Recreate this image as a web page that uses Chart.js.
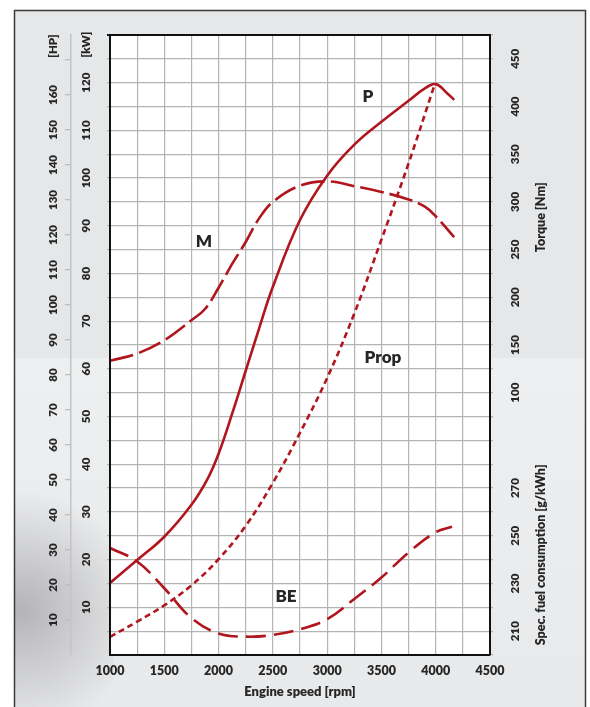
<!DOCTYPE html>
<html>
<head>
<meta charset="utf-8">
<script src="https://cdn.jsdelivr.net/npm/chart.js@4.4.1/dist/chart.umd.min.js"></script>
<style>
  html, body { margin: 0; padding: 0; background: #fff; }
  canvas { display: block; }
</style>
</head>
<body>
<canvas id="engine_chart" width="590" height="707"></canvas>
<script>
// Curves.
// Power P [kW]
const powerRpm = [1000, 1250, 1500, 1750, 1900, 2000, 2125, 2250, 2375, 2500, 2750, 3000, 3250, 3500, 3750, 3900, 4000, 4100, 4170];
const powerKw  = [15.1, 19.9, 24.8, 31.5, 37.0, 42.2, 50.6, 59.6, 68.6, 77.2, 91.2, 100.5, 107.0, 111.8, 116.2, 118.8, 119.7, 117.9, 116.4];

// Propeller curve Prop [kW]
const propRpm = [1000, 1250, 1500, 1750, 2000, 2250, 2500, 2750, 3000, 3250, 3500, 3750, 3990];
const propKw  = [3.8, 7.0, 10.4, 14.6, 20.1, 27.1, 36.1, 46.6, 58.1, 71.6, 87.1, 103.1, 119.6];

// Torque M [Nm]
const torqueRpm = [1000, 1250, 1500, 1750, 1875, 2000, 2125, 2250, 2375, 2500, 2750, 3000, 3250, 3500, 3750, 3900, 4000, 4170];
const torqueNm  = [133.5, 141, 155, 176, 187.7, 210, 235, 258, 283, 300, 317, 321.5, 316.5, 310.5, 302.5, 295, 285, 263];

// Specific fuel consumption BE [g/kWh]
const fuelRpm  = [1000, 1250, 1500, 1750, 2000, 2250, 2500, 2750, 3000, 3250, 3500, 3750, 4000, 4150];
const fuelGkwh = [244.9, 239.2, 228, 215.5, 209, 207.7, 208.4, 210.8, 215, 223.5, 232.5, 243, 251.5, 253.8];

// Tick labels
const rpmLabels    = [1000, 1500, 2000, 2500, 3000, 3500, 4000, 4500];
const kwLabels     = [10, 20, 30, 40, 50, 60, 70, 80, 90, 100, 110, 120];
const hpLabels     = [10, 20, 30, 40, 50, 60, 70, 80, 90, 100, 110, 120, 130, 140, 150, 160];
const torqueLabels = [100, 150, 200, 250, 300, 350, 400, 450];
const fuelLabels   = [210, 230, 250, 270];

const red = '#b1151e';
const gridGray = '#b4b4b4';
const textColor = '#262626';
const FONT = 'Lato, "Open Sans", sans-serif';
const HEAVY = 800;
Chart.defaults.font.family = FONT;

const toPoints = (xs, ys) => xs.map((x, i) => ({x: x, y: ys[i]}));
const range = (from, to, step) => {
  let out = [];
  for (let v = from; v <= to + 1e-9; v += step) out.push(Math.round(v * 100) / 100);
  return out;
};
const setTicks = values => scale => { scale.ticks = values.map(v => ({value: v})); };

// kW grid every 5, plus the spot where "[kW]" sits
const kwTicks = range(0, 125, 5).concat([128, 130]);
// HP ticks every 10, plus the "[HP]" spot
const hpTicks = range(10, 170, 10).concat([174]);

// Background, frame and white plot area.
const sheetBackground = {
  id: 'sheetBackground',
  beforeDraw(chart) {
    const ctx = chart.ctx;
    const a = chart.chartArea;
    ctx.save();
    ctx.fillStyle = '#ffffff';
    ctx.fillRect(0, 0, chart.width, chart.height);
    ctx.fillStyle = '#e6e7e9';
    ctx.fillRect(14, 10, 572, 720);

    // lighter lower band
    let g = ctx.createLinearGradient(0, 358, 0, 707);
    g.addColorStop(0, '#eeeff0');
    g.addColorStop(1, '#e8e9ea');
    ctx.fillStyle = g;
    ctx.fillRect(14, 358, 572, 360);

    // grey swoosh lower left
    ctx.beginPath();
    ctx.rect(14, 358, 100, 360);
    ctx.clip();
    let r = ctx.createRadialGradient(22, 610, 5, 22, 610, 120);
    r.addColorStop(0, 'rgba(140,140,146,0.55)');
    r.addColorStop(1, 'rgba(140,140,146,0)');
    ctx.fillStyle = r;
    ctx.fillRect(14, 358, 100, 360);
    ctx.restore();

    ctx.save();
    ctx.strokeStyle = '#3b3b3b';
    ctx.lineWidth = 1.5;
    ctx.strokeRect(14.5, 10.5, 571, 720);
    ctx.fillStyle = '#ffffff';
    ctx.fillRect(a.left, a.top, a.right - a.left, a.bottom - a.top);
    ctx.restore();
  }
};

// Curve names and the right-hand axis titles.
const curveTags = [
  {text: 'P', rpm: 3376, kw: 117},
  {text: 'Prop', rpm: 3514, kw: 62.3},
  {text: 'M', rpm: 1866, kw: 86.8},
  {text: 'BE', rpm: 2621, kw: 12.2}
];

const sheetTexts = {
  id: 'sheetTexts',
  afterDraw(chart) {
    const ctx = chart.ctx;
    const x = chart.scales.x, kw = chart.scales.kw;
    ctx.save();
    ctx.fillStyle = textColor;
    ctx.textAlign = 'center';
    ctx.textBaseline = 'middle';
    ctx.font = HEAVY + ' 17px ' + FONT;
    curveTags.forEach(t => {
      ctx.fillText(t.text, x.getPixelForValue(t.rpm), kw.getPixelForValue(t.kw));
    });

    ctx.font = HEAVY + ' 12.5px ' + FONT;
    const tq = chart.scales.torque, fu = chart.scales.fuel;
    [[tq, 284, 'Torque [Nm]'], [fu, 242, 'Spec. fuel consumption [g/kWh]']].forEach(item => {
      ctx.save();
      ctx.translate(item[0].left + 51, item[0].getPixelForValue(item[1]));
      ctx.rotate(-Math.PI / 2);
      ctx.fillText(item[2], 0, 0);
      ctx.restore();
    });
    ctx.restore();
  }
};

const tickFont = {size: 11.5, weight: HEAVY};

let chart = new Chart(document.getElementById('engine_chart'), {
  type: 'line',
  data: {
    datasets: [
      {
        label: 'P',
        data: toPoints(powerRpm, powerKw),
        yAxisID: 'kw',
        borderColor: red,
        borderWidth: 2.6
      },
      {
        label: 'Prop',
        data: toPoints(propRpm, propKw),
        yAxisID: 'kw',
        borderColor: red,
        borderWidth: 2.6,
        borderDash: [6, 4]
      },
      {
        label: 'M',
        data: toPoints(torqueRpm, torqueNm),
        yAxisID: 'torque',
        borderColor: red,
        borderWidth: 2.6,
        borderDash: [24, 6]
      },
      {
        label: 'BE',
        data: toPoints(fuelRpm, fuelGkwh),
        yAxisID: 'fuel',
        borderColor: red,
        borderWidth: 2.6,
        borderDash: [20, 8]
      }
    ]
  },
  options: {
    responsive: false,
    animation: false,
    events: [],
    elements: {
      point: {radius: 0},
      line: {tension: 0.4, fill: false}
    },
    layout: {padding: {left: 16, right: 8, top: 35, bottom: 0}},
    plugins: {
      legend: {display: false},
      tooltip: {enabled: false},
      title: {display: false}
    },
    scales: {
      x: {
        type: 'linear',
        min: 1000,
        max: 4500,
        afterBuildTicks: setTicks(range(1000, 4500, 250)),
        afterFit: s => { s.height = 52; },
        ticks: {
          autoSkip: false,
          maxRotation: 0,
          padding: 8,
          color: textColor,
          font: {size: 12.5, weight: HEAVY},
          callback: v => rpmLabels.includes(v) ? String(v) : ''
        },
        grid: {
          color: c => (c.tick && (c.tick.value === 1000 || c.tick.value === 4500)) ? 'transparent' : gridGray,
          lineWidth: 1.2,
          drawTicks: false
        },
        border: {color: '#111', width: 2, z: 1},
        title: {
          display: true,
          text: 'Engine speed [rpm]',
          color: textColor,
          font: {size: 13, weight: HEAVY},
          padding: {top: 0, bottom: 7}
        }
      },
      kw: {
        type: 'linear',
        position: 'left',
        weight: 0,
        min: 0,
        max: 130,
        afterBuildTicks: setTicks(kwTicks),
        afterFit: s => { s.width = 39; },
        ticks: {
          autoSkip: false,
          minRotation: 90,
          maxRotation: 90,
          crossAlign: 'center',
          padding: 8,
          color: textColor,
          font: tickFont,
          callback: v => v === 128 ? '[kW]' : (kwLabels.includes(v) ? String(v) : '')
        },
        grid: {
          color: c => {
            const v = c.tick ? c.tick.value : null;
            if (v === 128 || v === 0) return 'transparent';
            return v === 130 ? '#111' : gridGray;
          },
          lineWidth: c => (c.tick && c.tick.value === 130) ? 2 : 1.2,
          tickLength: 3
        },
        border: {color: '#111', width: 2, z: 1}
      },
      hp: {
        type: 'linear',
        position: 'left',
        weight: 1,
        min: 0,
        max: 620 / 3.5,
        afterBuildTicks: setTicks(hpTicks),
        afterFit: s => { s.width = 55; },
        ticks: {
          autoSkip: false,
          minRotation: 90,
          maxRotation: 90,
          crossAlign: 'center',
          padding: 0,
          color: textColor,
          font: tickFont,
          callback: v => v === 174 ? '[HP]' : (hpLabels.includes(v) ? String(v) : '')
        },
        grid: {
          drawOnChartArea: false,
          color: c => (c.tick && c.tick.value === 174) ? 'transparent' : '#bdbdbd',
          lineWidth: 1.3,
          tickLength: 6
        },
        border: {color: '#c4c4c4', width: 1.5}
      },
      torque: {
        type: 'linear',
        position: 'right',
        stack: 'right',
        stackWeight: 80,
        min: 75,
        max: 475,
        afterBuildTicks: setTicks(range(75, 475, 25)),
        afterFit: s => { s.width = 92; },
        ticks: {
          autoSkip: false,
          minRotation: 90,
          maxRotation: 90,
          crossAlign: 'center',
          padding: 12,
          color: textColor,
          font: tickFont,
          callback: v => torqueLabels.includes(v) ? String(v) : ''
        },
        grid: {drawOnChartArea: false, color: gridGray, lineWidth: 1.2, tickLength: 3},
        border: {color: '#111', width: 2, z: 1}
      },
      fuel: {
        type: 'linear',
        position: 'right',
        stack: 'right',
        stackWeight: 50,
        min: 200,
        max: 300,
        afterBuildTicks: setTicks(range(200, 300, 10)),
        afterFit: s => { s.width = 92; },
        ticks: {
          autoSkip: false,
          minRotation: 90,
          maxRotation: 90,
          crossAlign: 'center',
          padding: 12,
          color: textColor,
          font: tickFont,
          callback: v => fuelLabels.includes(v) ? String(v) : ''
        },
        grid: {drawOnChartArea: false, color: gridGray, lineWidth: 1.2, tickLength: 3},
        border: {color: '#111', width: 2, z: 1}
      }
    }
  },
  plugins: [sheetBackground, sheetTexts]
});
</script>
</body>
</html>
